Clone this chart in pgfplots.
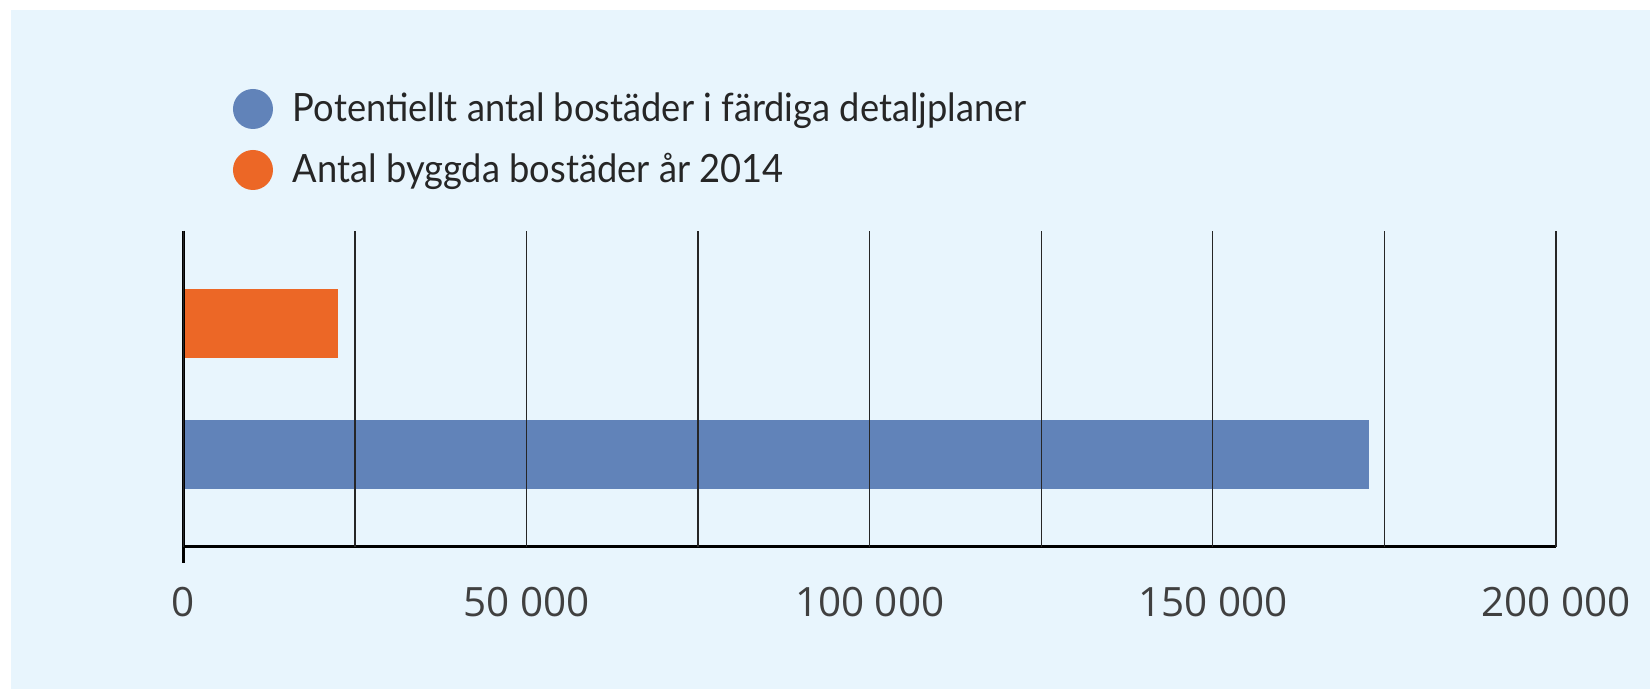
\documentclass[border=0pt]{standalone}
\usepackage{fontspec}
\setmainfont{Lato}
\newfontfamily\legfont[FakeStretch=0.93]{Lato}
\newfontfamily\tickfont{Open Sans}
\usepackage{pgfplots}
\pgfplotsset{compat=1.18}
\definecolor{bg}{HTML}{E8F5FD}
\definecolor{barblue}{HTML}{6183B9}
\definecolor{barorange}{HTML}{EC6726}
\begin{document}
\begin{tikzpicture}[x=1pt,y=1pt]
\useasboundingbox (0,0) rectangle (825,344.5);
\fill[white] (0,0) rectangle (825,344.5);
\fill[bg] (5.5,0) rectangle (825,339.5);
\begin{axis}[
  at={(91.65pt,71.15pt)}, anchor=south west,
  scale only axis, width=686.35pt, height=158pt,
  xmin=0, xmax=200000, ymin=0, ymax=316,
  clip=false,
  axis line style={draw=none},
  major tick length=0pt,
  ytick=\empty,
  xtick={0,25000,...,200000},
  scaled x ticks=false,
  xticklabels={0,,50 000,,100 000,,150 000,,200 000},
  /pgf/number format/assume math mode=true,
  xticklabel style={font=\tickfont\fontsize{20.2}{24}\selectfont, text=black!75, anchor=north, inner sep=0pt, yshift=-20pt},
  xmajorgrids,
  grid style={black!85, line width=0.65pt},
  axis on top,
  legend style={at={(axis description cs:0.0362,1.4484)}, anchor=north west,
    draw=none, fill=none, inner sep=0pt, outer sep=0pt,
    row sep=10.5pt, column sep=10pt,
    font=\legfont\fontsize{19.5}{23}\selectfont, text=black!85,
    nodes={inner sep=0pt, outer sep=0pt},
    cells={anchor=west}},
]
\addplot[xbar, bar width=34.35pt, bar shift=0pt, fill=barblue, draw=none,
  legend image code/.code={\fill[barblue] (0pt,0pt) circle (10pt);}]
  coordinates {(172700,92.4)};
\addlegendentry{\raisebox{0pt}[14pt][0pt]{Potentiellt antal bostäder i färdiga detaljplaner}}
\addplot[xbar, bar width=34.35pt, bar shift=0pt, fill=barorange, draw=none,
  legend image code/.code={\fill[barorange] (0pt,0pt) circle (10pt);}]
  coordinates {(22600,223)};
\addlegendentry{\raisebox{0pt}[14pt][0pt]{Antal byggda bostäder år 2014}}
\draw[line width=1.35pt, black] (axis cs:0,316) -- ([yshift=-8.15pt]axis cs:0,0);
\draw[line width=1.35pt, black] (axis cs:0,0) -- (axis cs:200000,0);
\end{axis}
\end{tikzpicture}
\end{document}
